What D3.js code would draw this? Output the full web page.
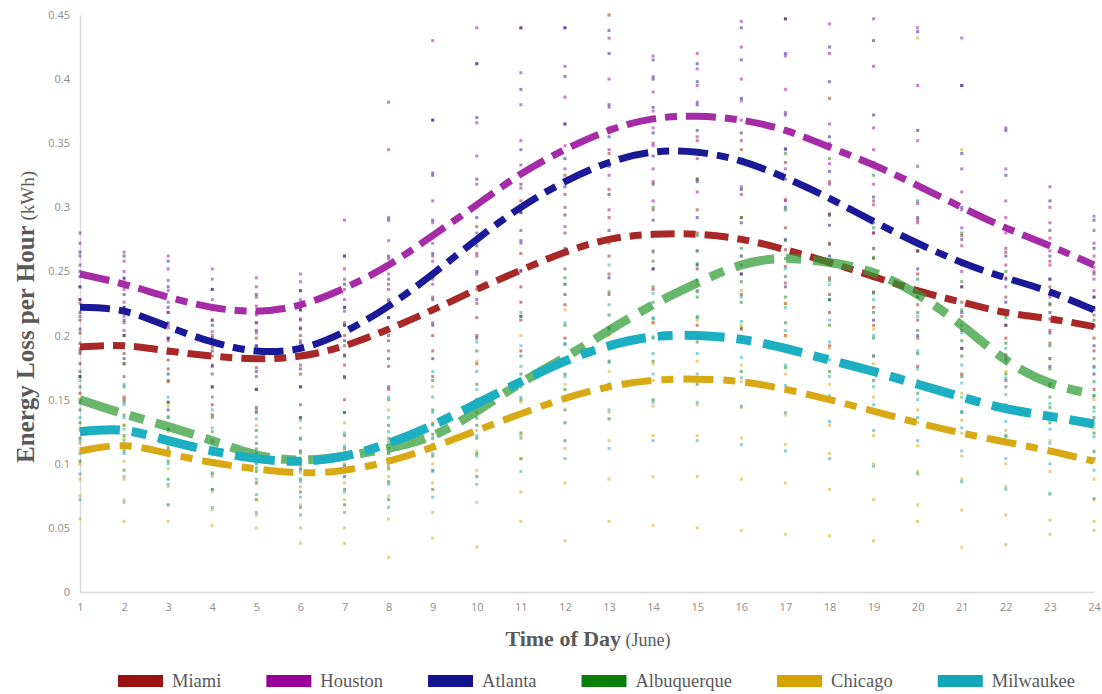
<!DOCTYPE html>
<html>
<head>
<meta charset="utf-8">
<script src="https://cdn.jsdelivr.net/npm/d3@7"></script>
<style>
  body { margin: 0; background: #fff; }
  #chart { width: 1102px; height: 694px; }
</style>
</head>
<body>
<div id="chart"></div>
<script>
const hours = d3.range(1, 25)
const yTicks = [0, 0.05, 0.1, 0.15, 0.2, 0.25, 0.3, 0.35, 0.4, 0.45]

const cities = ["Miami", "Houston", "Atlanta", "Albuquerque", "Chicago", "Milwaukee"]
const legendColors = ["#9a1212", "#990099", "#14148e", "#0b7d0b", "#d4a300", "#12a6b8"]
const lineColors = ["#a82828", "#a52ca6", "#1a1a98", "#2f9a34", "#d8a915", "#1cafc1"]

// trend lines (kWh), hours 1..24
const miamiTrend = [0.191, 0.192, 0.188, 0.184, 0.182, 0.184, 0.192, 0.205, 0.220, 0.236, 0.251, 0.265, 0.275, 0.279, 0.279, 0.275, 0.267, 0.257, 0.246, 0.235, 0.226, 0.218, 0.213, 0.207]
const houstonTrend = [0.248, 0.240, 0.230, 0.222, 0.219, 0.224, 0.237, 0.255, 0.278, 0.302, 0.326, 0.345, 0.360, 0.369, 0.371, 0.368, 0.360, 0.347, 0.333, 0.317, 0.300, 0.284, 0.270, 0.255]
const atlantaTrend = [0.222, 0.219, 0.207, 0.195, 0.188, 0.190, 0.203, 0.223, 0.248, 0.275, 0.300, 0.320, 0.335, 0.343, 0.343, 0.336, 0.323, 0.307, 0.289, 0.272, 0.257, 0.245, 0.234, 0.220]
const albuquerqueTrend = [0.150, 0.139, 0.129, 0.118, 0.107, 0.103, 0.106, 0.112, 0.122, 0.141, 0.163, 0.183, 0.204, 0.224, 0.241, 0.255, 0.260, 0.257, 0.249, 0.232, 0.208, 0.181, 0.163, 0.154]
const chicagoTrend = [0.110, 0.114, 0.108, 0.101, 0.096, 0.093, 0.095, 0.102, 0.113, 0.126, 0.139, 0.151, 0.160, 0.165, 0.166, 0.164, 0.158, 0.150, 0.141, 0.132, 0.124, 0.117, 0.110, 0.102]
const milwaukeeTrend = [0.125, 0.126, 0.118, 0.110, 0.104, 0.102, 0.106, 0.116, 0.130, 0.147, 0.164, 0.180, 0.192, 0.199, 0.200, 0.197, 0.190, 0.181, 0.172, 0.162, 0.152, 0.143, 0.137, 0.131]

// daily readings (thousandths of kWh), one string per hour
const miamiPts = ["225 212 202 194 186 178 168 155", "222 210 200 193 186 178 168 152", "218 206 196 188 181 174 164 148", "212 200 191 184 177 170 160 146", "210 198 189 182 175 168 158 144", "212 200 191 184 177 170 160 146", "222 210 200 192 185 177 167 150", "240 226 214 205 196 188 176 158", "262 244 230 220 210 200 188 168", "285 264 248 236 225 214 200 178", "305 282 264 251 238 226 212 188", "325 300 280 265 252 240 224 198", "342 314 292 275 262 248 232 206", "350 320 298 280 266 252 236 210", "352 322 298 280 266 252 235 208", "345 316 292 275 262 248 232 205", "335 306 284 267 254 241 225 200", "320 294 272 257 245 232 218 192", "305 280 260 246 234 222 208 184", "290 266 248 235 224 212 198 176", "278 255 238 226 215 204 190 170", "265 245 230 218 208 198 185 165", "258 238 224 213 204 194 182 162", "250 230 216 207 198 188 176 158"]
const houstonPts = ["280 272 262 255 246 238 228 215", "265 258 250 244 236 226 215 204", "262 252 243 235 226 218 208 198", "252 244 236 228 220 212 203 194", "245 238 230 223 216 210 202 192", "248 242 235 228 220 213 205 196", "290 262 252 244 236 228 219 208", "382 345 292 274 260 248 236 222", "430 368 327 305 288 272 258 240", "440 412 366 340 318 300 280 262", "440 405 380 352 333 315 296 272", "440 410 386 365 348 330 310 285", "450 432 400 378 362 345 325 298", "418 402 390 375 362 348 330 305", "420 408 395 382 370 355 338 312", "445 425 400 383 368 352 335 310", "447 418 392 374 360 346 330 305", "443 420 385 365 350 334 318 295", "447 410 362 345 332 318 302 280", "440 395 352 332 318 303 288 266", "432 395 330 312 298 284 270 250", "362 330 305 292 280 268 255 238", "316 300 288 276 266 255 244 230", "293 282 272 262 253 244 235 222"]
const atlantaPts = ["265 250 238 228 218 205 188 168", "262 245 232 222 212 200 182 150", "258 238 222 210 198 186 170 142", "236 222 208 198 188 176 160 138", "232 218 204 192 182 172 158 140", "235 220 206 194 184 174 160 136", "262 240 222 208 196 184 168 140", "290 262 244 228 214 200 182 160", "368 325 290 264 246 228 208 182", "412 370 322 292 270 250 228 198", "440 392 345 318 296 274 250 215", "440 402 365 338 316 294 268 232", "438 420 380 355 332 310 282 245", "415 400 378 358 340 318 290 252", "412 398 380 360 342 320 292 255", "440 415 385 358 336 314 288 248", "447 420 372 345 322 300 275 238", "425 398 355 328 306 286 262 228", "430 372 335 308 288 268 245 212", "437 360 318 292 272 252 230 200", "395 342 300 275 256 238 218 190", "360 325 284 262 244 226 208 182", "305 282 262 244 232 218 202 176", "290 268 248 230 220 208 192 170"]
const albuquerquePts = ["190 172 160 150 142 132 120 102", "178 160 148 138 130 122 110 95", "165 148 136 127 120 112 102 88", "152 136 125 117 110 102 92 80", "142 126 116 108 100 94 85 72", "136 120 110 103 96 88 78 66", "140 122 112 105 98 90 80 68", "150 130 120 112 104 96 86 72", "165 142 131 123 115 106 95 80", "188 162 150 140 130 120 108 90", "215 184 170 160 150 138 124 104", "245 208 193 182 170 158 142 118", "272 234 216 205 193 180 162 135", "300 258 238 226 213 198 180 150", "322 278 256 243 230 214 195 162", "335 292 268 255 242 226 206 172", "342 298 274 260 246 230 210 175", "338 294 271 257 243 228 208 172", "325 284 261 246 233 218 198 165", "305 266 244 230 218 204 186 155", "280 242 220 208 196 184 168 140", "250 214 194 180 170 160 146 122", "225 192 174 162 152 144 132 110", "212 182 164 153 144 136 124 104"]
const chicagoPts = ["150 128 116 110 100 88 75 57", "150 130 120 114 102 88 72 55", "145 125 114 108 96 82 68 55", "138 118 107 101 90 78 64 52", "130 112 101 96 85 72 60 50", "128 108 98 93 82 68 50 38", "132 110 100 95 85 72 50 38", "142 118 108 102 90 75 57 27", "160 132 120 113 100 85 62 42", "180 150 135 126 110 95 70 35", "200 165 148 139 122 104 78 55", "220 180 162 151 132 112 85 40", "450 200 172 160 140 118 88 55", "370 210 178 165 145 122 90 52", "240 212 180 166 146 122 90 50", "235 208 177 164 144 120 88 48", "225 200 170 158 138 115 85 45", "385 190 162 150 130 108 80 44", "205 178 152 141 122 100 72 40", "432 165 142 132 114 94 68 55", "345 155 134 124 106 88 64 35", "172 145 126 117 100 82 60 37", "162 137 118 110 94 76 56 45", "150 128 109 102 88 72 55 48"]
const milwaukeePts = ["165 148 136 126 118 108 92 72", "162 146 136 127 118 108 90 70", "152 137 127 118 110 100 84 68", "142 128 118 110 102 93 80 66", "135 121 111 104 97 88 76 62", "134 119 109 102 95 86 74 60", "140 124 114 106 99 90 78 62", "152 136 125 116 108 98 84 66", "172 152 140 130 120 108 94 74", "195 172 158 147 136 122 106 84", "218 192 176 164 152 138 120 94", "240 210 194 180 168 152 132 104", "255 224 206 192 179 162 142 112", "265 233 214 199 186 170 148 118", "266 234 215 200 186 170 148 118", "262 230 211 197 183 167 145 115", "252 222 204 190 177 161 140 110", "240 212 195 181 168 153 133 104", "228 200 184 172 160 146 126 98", "215 188 174 162 150 136 118 92", "202 177 163 152 141 128 110 86", "190 167 154 143 133 121 104 80", "182 160 147 137 127 116 100 77", "175 153 141 131 121 110 95 73"]

const trends = [miamiTrend, houstonTrend, atlantaTrend, albuquerqueTrend, chicagoTrend, milwaukeeTrend]
const points = [miamiPts, houstonPts, atlantaPts, albuquerquePts, chicagoPts, milwaukeePts]
const dashes = ["24,9,12,9", "30,9,12,9", "30,9,12,9", "40,12,15,12", "30,10,12,10", "40,12,15,12"]
const widths = [7, 7, 7, 9, 7, 9]
const lineOpacity = [1, 1, 1, 0.72, 1, 1]

const width = 1102, height = 694
const margin = { left: 80, right: 8, top: 15, bottom: 102 }

const svg = d3.select("#chart").append("svg").attr("width", width).attr("height", height)

const x = d3.scaleLinear().domain([1, 24]).range([margin.left, width - margin.right])
const y = d3.scaleLinear().domain([0, 0.45]).range([height - margin.bottom, margin.top])

// axes
const xAxis = svg.append("g")
    .attr("transform", `translate(0,${y(0)})`)
    .call(d3.axisBottom(x).tickValues(hours).tickSize(0).tickPadding(11).tickFormat(d3.format("d")))
xAxis.select(".domain").attr("stroke", "#d9d9d9").attr("stroke-width", 1.5)

const yAxis = svg.append("g")
    .attr("transform", `translate(${x(1)},0)`)
    .call(d3.axisLeft(y).tickValues(yTicks).tickSize(0).tickPadding(10).tickFormat(d => d === 0 ? "0" : String(+d.toFixed(2))))
yAxis.select(".domain").attr("stroke", "#d9d9d9").attr("stroke-width", 1.5)

svg.selectAll(".tick text")
    .attr("fill", "#8c8c8c")
    .style("font-family", "'Open Sans', sans-serif")
    .style("font-size", "11px")

// scatter of daily readings
const dots = []
points.forEach((city, ci) => {
    city.forEach((str, hi) => {
        str.split(" ").forEach(v => dots.push({ c: ci, h: hours[hi], v: +v / 1000 }))
    })
})

svg.append("g").selectAll("rect")
    .data(dots)
    .join("rect")
    .attr("x", d => x(d.h) - 1.5)
    .attr("y", d => y(d.v) - 1.5)
    .attr("width", 3)
    .attr("height", 3)
    .attr("fill", d => legendColors[d.c])
    .attr("opacity", 0.5)

// trend lines
const line = d3.line()
    .x((d, i) => x(hours[i]))
    .y(d => y(d))
    .curve(d3.curveNatural)

svg.append("g").selectAll("path")
    .data(trends)
    .join("path")
    .attr("d", d => line(d))
    .attr("fill", "none")
    .attr("stroke", (d, i) => lineColors[i])
    .attr("stroke-width", (d, i) => widths[i])
    .attr("stroke-dasharray", (d, i) => dashes[i])
    .attr("opacity", (d, i) => lineOpacity[i])

// axis titles
const yTitle = svg.append("text")
    .attr("transform", "translate(34,317) rotate(-90)")
    .attr("text-anchor", "middle")
    .attr("fill", "#595959")
    .style("font-family", "'Liberation Serif', 'Times New Roman', serif")
yTitle.append("tspan").text("Energy Loss per Hour").style("font-weight", "bold").style("font-size", "25px")
yTitle.append("tspan").text(" (kWh)").style("font-size", "19px")

const xTitle = svg.append("text")
    .attr("x", 588)
    .attr("y", 646)
    .attr("text-anchor", "middle")
    .attr("fill", "#595959")
    .style("font-family", "'Liberation Serif', 'Times New Roman', serif")
xTitle.append("tspan").text("Time of Day").style("font-weight", "bold").style("font-size", "22px")
xTitle.append("tspan").text(" (June)").style("font-size", "18px")

// legend
const legend = svg.append("g").attr("transform", "translate(118,675)")
let lx = 0
cities.forEach((c, i) => {
    const g = legend.append("g").attr("transform", `translate(${lx},0)`)
    g.append("rect").attr("width", 45).attr("height", 12).attr("fill", legendColors[i])
    const t = g.append("text")
        .attr("x", 54)
        .attr("y", 12)
        .attr("fill", "#595959")
        .style("font-family", "'Liberation Serif', 'Times New Roman', serif")
        .style("font-size", "18.5px")
        .text(c)
    lx += 54 + t.node().getComputedTextLength() + 45
})
</script>
</body>
</html>
